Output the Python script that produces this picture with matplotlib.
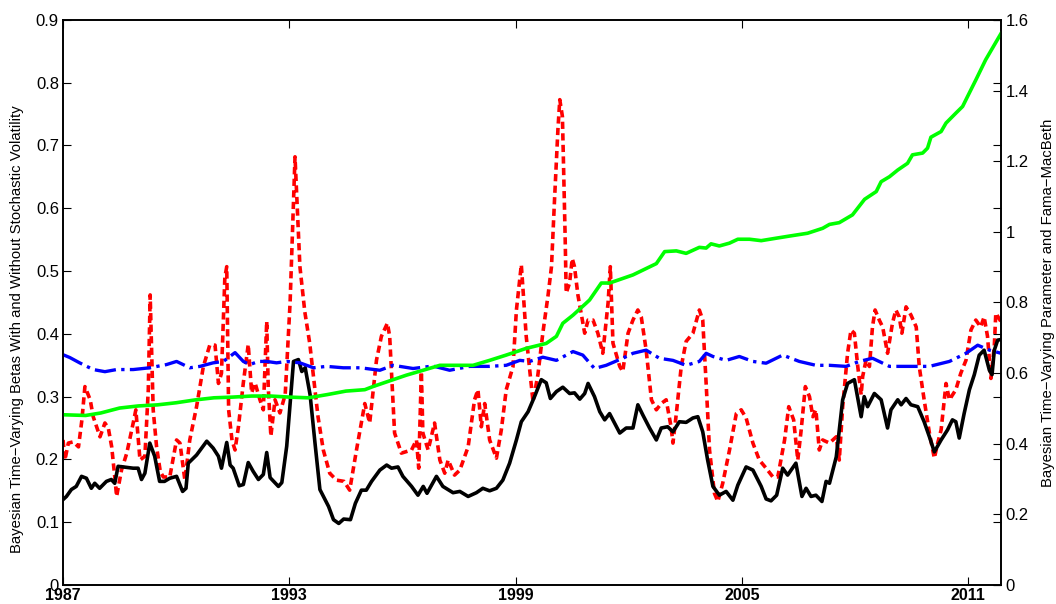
import numpy as np
import matplotlib
matplotlib.use("Agg")
import matplotlib.pyplot as plt

plt.rcParams['font.family'] = ['Liberation Sans', 'DejaVu Sans']

# black: betas with stochastic volatility (left axis)
black_t = [1987.00, 1987.09, 1987.22, 1987.35, 1987.49, 1987.62, 1987.75, 1987.84, 1987.97,
           1988.15, 1988.28, 1988.37, 1988.46, 1988.59, 1988.86, 1988.99, 1989.08, 1989.17,
           1989.30, 1989.43, 1989.56, 1989.69, 1989.83, 1990.01, 1990.17, 1990.26, 1990.32,
           1990.54, 1990.81, 1990.98, 1991.12, 1991.20, 1991.34, 1991.43, 1991.51, 1991.67,
           1991.78, 1991.91, 1992.04, 1992.18, 1992.31, 1992.40, 1992.49, 1992.71, 1992.80,
           1992.93, 1993.11, 1993.24, 1993.33, 1993.42, 1993.55, 1993.68, 1993.81, 1994.04,
           1994.17, 1994.31, 1994.44, 1994.62, 1994.75, 1994.91, 1995.04, 1995.18, 1995.40,
           1995.58, 1995.71, 1995.88, 1996.01, 1996.24, 1996.41, 1996.55, 1996.65, 1996.90,
           1997.07, 1997.34, 1997.52, 1997.74, 1997.96, 1998.13, 1998.31, 1998.49, 1998.66,
           1998.84, 1999.02, 1999.15, 1999.33, 1999.50, 1999.68, 1999.81, 1999.92, 2000.08,
           2000.25, 2000.43, 2000.56, 2000.70, 2000.83, 2000.92, 2001.09, 2001.23, 2001.36,
           2001.49, 2001.76, 2001.93, 2002.11, 2002.24, 2002.37, 2002.55, 2002.73, 2002.86,
           2003.03, 2003.17, 2003.34, 2003.52, 2003.70, 2003.83, 2003.96, 2004.09, 2004.23,
           2004.40, 2004.58, 2004.76, 2004.89, 2005.11, 2005.29, 2005.51, 2005.64, 2005.77,
           2005.92, 2006.08, 2006.21, 2006.43, 2006.59, 2006.70, 2006.83, 2006.96, 2007.12,
           2007.23, 2007.32, 2007.50, 2007.67, 2007.80, 2007.98, 2008.16, 2008.24, 2008.33,
           2008.51, 2008.69, 2008.86, 2008.95, 2009.13, 2009.22, 2009.35, 2009.48, 2009.66,
           2009.83, 2009.97, 2010.10, 2010.28, 2010.45, 2010.58, 2010.67, 2010.76, 2010.89,
           2011.03, 2011.16, 2011.29, 2011.42, 2011.56, 2011.63, 2011.69, 2011.78, 2011.87]
black_v = [0.136, 0.141, 0.152, 0.157, 0.173, 0.170, 0.154, 0.162, 0.154,
           0.165, 0.168, 0.162, 0.189, 0.188, 0.186, 0.186, 0.168, 0.178,
           0.226, 0.205, 0.165, 0.165, 0.170, 0.173, 0.149, 0.154, 0.194,
           0.207, 0.229, 0.218, 0.205, 0.186, 0.227, 0.191, 0.186, 0.158,
           0.160, 0.195, 0.181, 0.168, 0.176, 0.211, 0.171, 0.157, 0.163,
           0.221, 0.356, 0.359, 0.340, 0.346, 0.303, 0.226, 0.152, 0.125,
           0.104, 0.098, 0.105, 0.104, 0.130, 0.151, 0.151, 0.165, 0.183,
           0.191, 0.186, 0.188, 0.173, 0.157, 0.143, 0.157, 0.146, 0.173,
           0.157, 0.147, 0.149, 0.141, 0.147, 0.154, 0.150, 0.154, 0.167,
           0.194, 0.231, 0.260, 0.276, 0.300, 0.327, 0.322, 0.297, 0.308,
           0.315, 0.305, 0.306, 0.296, 0.305, 0.321, 0.300, 0.276, 0.263,
           0.273, 0.242, 0.250, 0.250, 0.287, 0.271, 0.250, 0.231, 0.250,
           0.252, 0.244, 0.260, 0.259, 0.266, 0.268, 0.244, 0.199, 0.157,
           0.143, 0.149, 0.135, 0.159, 0.188, 0.183, 0.157, 0.137, 0.134,
           0.143, 0.186, 0.175, 0.194, 0.141, 0.154, 0.141, 0.143, 0.133,
           0.165, 0.162, 0.204, 0.295, 0.321, 0.327, 0.268, 0.300, 0.284,
           0.305, 0.295, 0.250, 0.279, 0.295, 0.287, 0.297, 0.287, 0.284,
           0.260, 0.236, 0.212, 0.231, 0.247, 0.263, 0.260, 0.234, 0.273,
           0.311, 0.335, 0.366, 0.374, 0.342, 0.335, 0.374, 0.390, 0.391]

# red dashed: betas without stochastic volatility (left axis)
red_t = [1987.00, 1987.05, 1987.14, 1987.27, 1987.41, 1987.50, 1987.58, 1987.72, 1987.80,
         1987.98, 1988.11, 1988.20, 1988.29, 1988.38, 1988.42, 1988.55, 1988.69, 1988.86,
         1988.93, 1989.04, 1989.17, 1989.26, 1989.31, 1989.39, 1989.48, 1989.58, 1989.66,
         1989.83, 1990.01, 1990.10, 1990.23, 1990.36, 1990.54, 1990.72, 1990.89, 1991.03,
         1991.12, 1991.20, 1991.29, 1991.34, 1991.39, 1991.48, 1991.56, 1991.65, 1991.78,
         1991.91, 1992.00, 1992.09, 1992.22, 1992.31, 1992.40, 1992.44, 1992.51, 1992.62,
         1992.75, 1992.89, 1993.02, 1993.15, 1993.28, 1993.41, 1993.54, 1993.76, 1993.90,
         1994.07, 1994.25, 1994.45, 1994.60, 1994.78, 1995.00, 1995.13, 1995.31, 1995.44,
         1995.60, 1995.66, 1995.79, 1995.97, 1996.24, 1996.37, 1996.43, 1996.50, 1996.54,
         1996.68, 1996.85, 1996.99, 1997.12, 1997.21, 1997.38, 1997.52, 1997.74, 1997.91,
         1998.00, 1998.09, 1998.18, 1998.31, 1998.49, 1998.62, 1998.75, 1998.93, 1999.02,
         1999.15, 1999.28, 1999.41, 1999.46, 1999.59, 1999.72, 1999.86, 1999.95, 2000.03,
         2000.12, 2000.17, 2000.24, 2000.27, 2000.31, 2000.34, 2000.43, 2000.50, 2000.56,
         2000.65, 2000.83, 2000.92, 2001.05, 2001.18, 2001.31, 2001.45, 2001.51, 2001.58,
         2001.76, 2001.84, 2001.98, 2002.11, 2002.24, 2002.33, 2002.46, 2002.60, 2002.73,
         2002.86, 2002.99, 2003.12, 2003.17, 2003.26, 2003.39, 2003.52, 2003.70, 2003.87,
         2003.96, 2004.05, 2004.14, 2004.27, 2004.36, 2004.49, 2004.67, 2004.85, 2004.98,
         2005.11, 2005.29, 2005.46, 2005.64, 2005.82, 2005.95, 2006.13, 2006.24, 2006.37,
         2006.48, 2006.57, 2006.68, 2006.79, 2006.88, 2006.96, 2007.05, 2007.14, 2007.32,
         2007.50, 2007.58, 2007.67, 2007.80, 2007.89, 2007.98, 2008.07, 2008.16, 2008.20,
         2008.29, 2008.38, 2008.46, 2008.53, 2008.64, 2008.73, 2008.86, 2008.99, 2009.08,
         2009.17, 2009.24, 2009.35, 2009.48, 2009.62, 2009.70, 2009.83, 2009.97, 2010.10,
         2010.19, 2010.28, 2010.41, 2010.50, 2010.67, 2010.80, 2010.94, 2011.07, 2011.20,
         2011.33, 2011.42, 2011.51, 2011.60, 2011.69, 2011.73, 2011.87]
red_v = [0.231, 0.199, 0.226, 0.228, 0.220, 0.263, 0.316, 0.295, 0.268,
         0.236, 0.258, 0.250, 0.220, 0.167, 0.141, 0.183, 0.210, 0.258,
         0.279, 0.199, 0.205, 0.311, 0.462, 0.279, 0.220, 0.180, 0.172,
         0.172, 0.231, 0.226, 0.167, 0.231, 0.284, 0.348, 0.382, 0.382,
         0.321, 0.337, 0.490, 0.507, 0.279, 0.230, 0.215, 0.252, 0.322,
         0.383, 0.306, 0.322, 0.295, 0.279, 0.420, 0.316, 0.237, 0.295,
         0.274, 0.303, 0.450, 0.682, 0.507, 0.435, 0.385, 0.268, 0.215,
         0.178, 0.167, 0.165, 0.151, 0.215, 0.289, 0.258, 0.358, 0.396,
         0.417, 0.396, 0.242, 0.210, 0.215, 0.231, 0.186, 0.340, 0.242,
         0.215, 0.258, 0.199, 0.178, 0.199, 0.175, 0.183, 0.220, 0.295,
         0.311, 0.252, 0.289, 0.231, 0.202, 0.247, 0.311, 0.348, 0.438,
         0.510, 0.396, 0.321, 0.292, 0.335, 0.401, 0.462, 0.507, 0.613,
         0.725, 0.773, 0.746, 0.666, 0.560, 0.465, 0.481, 0.520, 0.507,
         0.462, 0.401, 0.422, 0.422, 0.401, 0.369, 0.449, 0.507, 0.385,
         0.348, 0.340, 0.401, 0.422, 0.438, 0.427, 0.374, 0.295, 0.279,
         0.289, 0.295, 0.252, 0.226, 0.273, 0.348, 0.388, 0.401, 0.438,
         0.422, 0.321, 0.215, 0.146, 0.133, 0.162, 0.215, 0.273, 0.279,
         0.266, 0.226, 0.199, 0.186, 0.172, 0.172, 0.231, 0.284, 0.263,
         0.199, 0.247, 0.316, 0.300, 0.268, 0.279, 0.215, 0.231, 0.226,
         0.236, 0.199, 0.284, 0.369, 0.406, 0.401, 0.348, 0.303, 0.332,
         0.358, 0.348, 0.411, 0.438, 0.422, 0.411, 0.369, 0.417, 0.438,
         0.427, 0.401, 0.443, 0.430, 0.411, 0.348, 0.295, 0.242, 0.202,
         0.226, 0.247, 0.321, 0.295, 0.311, 0.337, 0.358, 0.406, 0.422,
         0.411, 0.427, 0.396, 0.329, 0.380, 0.433, 0.419]

# blue dash-dot: time-varying parameter (right axis)
blue_t = [1987.00, 1987.18, 1987.44, 1987.80, 1988.11, 1988.42, 1988.86, 1989.30, 1989.74,
          1990.01, 1990.36, 1990.63, 1990.98, 1991.25, 1991.56, 1991.78, 1991.95, 1992.18,
          1992.40, 1992.66, 1992.93, 1993.28, 1993.64, 1993.99, 1994.43, 1994.88, 1995.40,
          1995.75, 1996.28, 1996.81, 1997.25, 1997.78, 1998.31, 1998.75, 1999.11, 1999.37,
          1999.72, 2000.08, 2000.52, 2000.78, 2001.09, 2001.40, 2001.84, 2002.11, 2002.46,
          2002.81, 2003.17, 2003.52, 2003.87, 2004.05, 2004.23, 2004.58, 2004.93, 2005.29,
          2005.64, 2006.08, 2006.52, 2006.96, 2007.32, 2007.76, 2008.11, 2008.46, 2008.91,
          2009.44, 2009.97, 2010.50, 2010.94, 2011.25, 2011.56, 2011.87]
blue_v = [0.652, 0.644, 0.629, 0.610, 0.604, 0.610, 0.610, 0.615, 0.624,
          0.633, 0.615, 0.619, 0.629, 0.633, 0.658, 0.633, 0.624, 0.633,
          0.633, 0.629, 0.633, 0.629, 0.615, 0.619, 0.615, 0.615, 0.608,
          0.622, 0.613, 0.620, 0.608, 0.619, 0.619, 0.622, 0.636, 0.633,
          0.645, 0.636, 0.661, 0.651, 0.613, 0.622, 0.642, 0.656, 0.665,
          0.642, 0.636, 0.622, 0.633, 0.656, 0.647, 0.636, 0.647, 0.633,
          0.628, 0.651, 0.633, 0.622, 0.622, 0.619, 0.633, 0.642, 0.619,
          0.619, 0.619, 0.633, 0.656, 0.679, 0.665, 0.656]

# green: Fama-MacBeth (right axis)
green_t = [1987.0, 1987.6, 1988.0, 1988.5, 1989.0, 1989.5, 1990.0, 1990.5, 1991.0,
           1991.5, 1992.0, 1992.5, 1993.0, 1993.5, 1994.0, 1994.5, 1995.0, 1995.22,
           1996.10, 1996.99, 1997.87, 1998.31, 1998.75, 1999.28, 1999.81, 2000.08, 2000.25,
           2000.52, 2000.87, 2000.96, 2001.27, 2001.49, 2002.11, 2002.73, 2002.95, 2003.26,
           2003.52, 2003.87, 2004.05, 2004.18, 2004.40, 2004.67, 2004.89, 2005.20, 2005.51,
           2005.91, 2006.26, 2006.74, 2007.14, 2007.32, 2007.58, 2007.93, 2008.25, 2008.56,
           2008.69, 2008.91, 2009.13, 2009.39, 2009.52, 2009.79, 2009.92, 2010.01, 2010.28,
           2010.41, 2010.67, 2010.85, 2010.98, 2011.20, 2011.46, 2011.87]
green_v = [0.482, 0.480, 0.487, 0.501, 0.507, 0.510, 0.516, 0.524, 0.530,
           0.532, 0.535, 0.535, 0.532, 0.530, 0.539, 0.549, 0.553, 0.562,
           0.594, 0.622, 0.622, 0.636, 0.651, 0.670, 0.684, 0.704, 0.741,
           0.764, 0.798, 0.807, 0.855, 0.855, 0.878, 0.910, 0.944, 0.946,
           0.939, 0.956, 0.954, 0.966, 0.960, 0.968, 0.979, 0.979, 0.975,
           0.982, 0.988, 0.996, 1.010, 1.021, 1.026, 1.048, 1.092, 1.114,
           1.142, 1.156, 1.175, 1.194, 1.218, 1.223, 1.237, 1.268, 1.284,
           1.308, 1.336, 1.355, 1.383, 1.430, 1.487, 1.562]

year_ticks = [1987, 1993, 1999, 2005, 2011]

fig = plt.figure(figsize=(10.56, 6.04), dpi=100)
ax = fig.add_axes([0.0597, 0.0315, 0.8883, 0.9355])
ax2 = ax.twinx()

ax.plot(black_t, black_v, color='black', lw=2.6, zorder=3)
ax.plot(red_t, red_v, color='red', lw=2.6, ls=(0, (2.0, 1.2)), zorder=2)
ax2.plot(blue_t, blue_v, color='blue', lw=2.4, ls='-.', zorder=2)
ax2.plot(green_t, green_v, color=(0, 1, 0), lw=2.6, zorder=2)

ax.set_xlim(1987, 2011.87)
ax.set_ylim(0, 0.9)
ax2.set_ylim(0, 1.6)
ax.set_xticks(year_ticks)
ax.set_xticklabels([str(y) for y in year_ticks], fontweight='bold')
ax.set_yticks(np.arange(0, 0.91, 0.1))
ax.set_yticklabels(['0', '0.1', '0.2', '0.3', '0.4', '0.5', '0.6', '0.7', '0.8', '0.9'])
ax2.set_yticks(np.arange(0, 1.61, 0.2))
ax2.set_yticklabels(['0', '0.2', '0.4', '0.6', '0.8', '1', '1.2', '1.4', '1.6'])

ax.tick_params(direction='in', length=6, width=0.8, labelsize=12, top=True, right=True,
               labelright=False, pad=3)
ax.tick_params(axis='x', labelsize=11.5, pad=2)
ax2.tick_params(direction='in', length=6, width=0.8, labelsize=12, pad=3)
for a in (ax, ax2):
    for s in a.spines.values():
        s.set_linewidth(1.2)

ax.set_ylabel('Bayesian Time\u2212Varying Betas With and Without Stochastic Volatility',
              fontsize=10.7)
ax.yaxis.set_label_coords(-0.0416, 0.453)
ax2.set_ylabel('Bayesian Time\u2212Varying Parameter and Fama\u2212MacBeth',
               fontsize=10.7, rotation=90)
ax2.yaxis.set_label_coords(1.043, 0.5)

fig.savefig('out.png', dpi=100)
